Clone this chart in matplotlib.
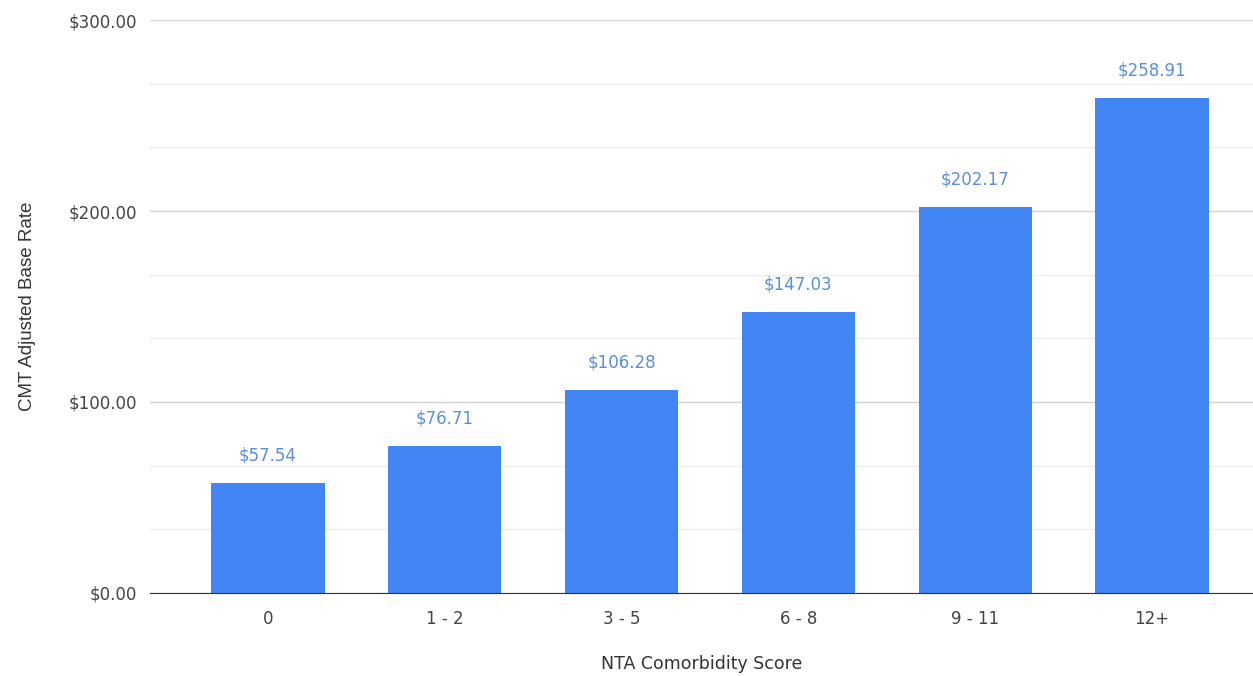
import matplotlib.pyplot as plt
from matplotlib.ticker import MultipleLocator, FuncFormatter

# Data
categories = ['0', '1 - 2', '3 - 5', '6 - 8', '9 - 11', '12+']
rates = [57.54, 76.71, 106.28, 147.03, 202.17, 258.91]

BAR_COLOR = '#4285f4'
LABEL_COLOR = '#5b8fdc'
TEXT_COLOR = '#444444'


def money(v, pos=None):
    return f"${v:,.2f}"


def main():
    plt.rcParams['font.family'] = ['DejaVu Sans']
    fig = plt.figure(figsize=(12.53, 6.76), dpi=100)
    ax = fig.add_axes([0.1197, 0.1228, 0.8803, 0.8476])

    x = list(range(len(categories)))
    bars = ax.bar(x, rates, width=0.64, color=BAR_COLOR, zorder=3)

    for b, v in zip(bars, rates):
        ax.annotate(money(v), (b.get_x() + b.get_width() / 2, v),
                    xytext=(0, 20), textcoords='offset points',
                    ha='center', va='center', fontsize=12, color=LABEL_COLOR)

    ax.set_xlim(-0.667, 5.571)
    ax.set_ylim(0, 300)
    ax.yaxis.set_major_locator(MultipleLocator(100))
    ax.yaxis.set_minor_locator(MultipleLocator(100 / 3))
    ax.yaxis.set_major_formatter(FuncFormatter(money))
    ax.set_xticks(x)
    ax.set_xticklabels(categories)

    ax.grid(axis='y', which='major', color='#d4d4d4', linewidth=1, zorder=0)
    ax.grid(axis='y', which='minor', color='#eeeeee', linewidth=1, zorder=0)
    ax.tick_params(axis='both', which='both', length=0, labelsize=12,
                   labelcolor=TEXT_COLOR)
    ax.tick_params(axis='y', pad=9)
    ax.tick_params(axis='x', pad=12)

    for side in ['top', 'right', 'left']:
        ax.spines[side].set_visible(False)
    ax.spines['bottom'].set_color('#333333')
    ax.spines['bottom'].set_zorder(4)

    ax.set_xlabel('NTA Comorbidity Score', fontsize=12.5, color='#333333',
                  labelpad=20)
    ax.set_ylabel('CMT Adjusted Base Rate', fontsize=13.5, color='#333333',
                  family=['Liberation Sans'], labelpad=24)

    fig.savefig('out.png', dpi=100)


if __name__ == "__main__":
    main()
